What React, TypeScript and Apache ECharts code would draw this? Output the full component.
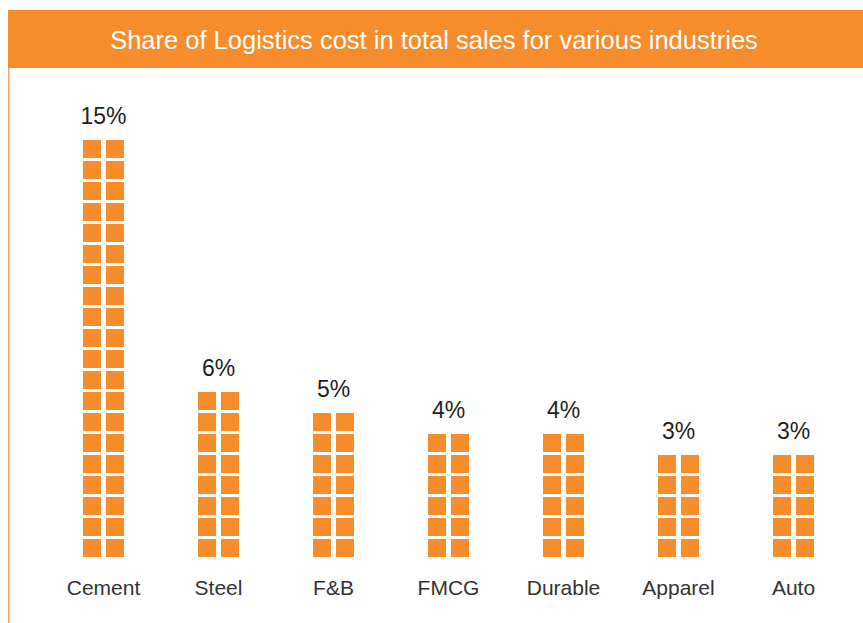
import React, { useEffect, useRef } from "react";
import * as echarts from "echarts";

const title = "Share of Logistics cost in total sales for various industries";
const categories = ["Cement", "Steel", "F&B", "FMCG", "Durable", "Apparel", "Auto"];
const shares = [15, 6, 5, 4, 4, 3, 3];
const blockRows = [20, 8, 7, 6, 6, 5, 5];

const ORANGE = "#F68D2C";

export default function App() {
  const ref = useRef<HTMLDivElement>(null);
  useEffect(() => {
    if (!ref.current) return;
    const chart = echarts.init(ref.current, undefined, { renderer: "svg" });
    const data = categories.map((c, i) => [i, blockRows[i], shares[i]]);
    chart.setOption({
      animation: false,
      backgroundColor: "#ffffff",
      graphic: [
        {
          type: "rect",
          shape: { x: 8, y: 10, width: 855, height: 58 },
          style: { fill: ORANGE },
          silent: true,
        },
        {
          type: "rect",
          shape: { x: 8, y: 68, width: 1.5, height: 555 },
          style: { fill: "#F9A860" },
          silent: true,
        },
        {
          type: "text",
          x: 434,
          y: 40,
          style: {
            text: title,
            fill: "#ffffff",
            font: '25.5px "Liberation Sans", Arial, sans-serif',
            align: "center",
            verticalAlign: "middle",
          },
          silent: true,
        },
      ],
      grid: { left: 46, right: 12, top: 95, bottom: 66 },
      xAxis: {
        type: "category",
        data: categories,
        axisLine: { show: false },
        axisTick: { show: false },
        axisLabel: {
          margin: 20,
          fontSize: 21,
          color: "#333333",
          fontFamily: '"Liberation Sans", Arial, sans-serif',
        },
      },
      yAxis: {
        type: "value",
        min: 0,
        max: 22,
        show: false,
        splitLine: { show: false },
      },
      series: [
        {
          type: "custom",
          data,
          encode: { x: 0, y: 1 },
          renderItem: (params: any, api: any) => {
            const idx = api.value(0);
            const rows = api.value(1);
            const share = api.value(2);
            const base = api.coord([idx, 0]);
            const one = api.coord([idx, 1]);
            const unit = base[1] - one[1];
            const cx = base[0];
            const children: any[] = [];
            const sq = 18;
            const gapX = 5;
            const gapY = unit - sq;
            for (let r = 0; r < rows; r++) {
              const yTop = base[1] - (r + 1) * unit + gapY;
              children.push({
                type: "rect",
                shape: { x: cx - gapX / 2 - sq, y: yTop, width: sq, height: sq },
                style: { fill: ORANGE },
              });
              children.push({
                type: "rect",
                shape: { x: cx + gapX / 2, y: yTop, width: sq, height: sq },
                style: { fill: ORANGE },
              });
            }
            const top = api.coord([idx, rows]);
            children.push({
              type: "text",
              x: cx,
              y: top[1] - 21,
              style: {
                text: share + "%",
                fill: "#231F20",
                font: '23px "Liberation Sans", Arial, sans-serif',
                align: "center",
                verticalAlign: "middle",
              },
            });
            return { type: "group", children };
          },
        },
      ],
    });
    return () => chart.dispose();
  }, []);
  return (
    <div
      ref={ref}
      style={{ position: "fixed", left: 0, top: 0, width: 863, height: 623 }}
    />
  );
}
